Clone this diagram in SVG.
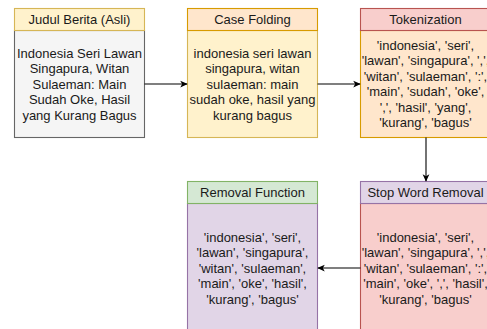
<svg xmlns="http://www.w3.org/2000/svg" width="487" height="329" viewBox="0 0 487 329">
<style>
text{font-family:"Liberation Sans",Arial,sans-serif;font-size:13px;fill:#1a1a1a;text-anchor:middle}
.conn{stroke:#000;stroke-width:1.1;fill:none;marker-end:url(#arr)}
.b{stroke-width:1.1}
</style>
<defs>
<marker id="arr" viewBox="0 0 10 10" refX="9" refY="5" markerWidth="7.5" markerHeight="7.5" markerUnits="userSpaceOnUse" orient="auto">
<path d="M0,0.5 L10,5 L0,9.5 L2.5,5 Z" fill="#000"/>
</marker>
</defs>
<rect width="487" height="329" fill="#fff"/>
<g id="judul">
<rect class="b" x="14.5" y="30.5" width="130" height="107" fill="#f5f5f5" stroke="#666666"/>
<rect class="b" x="14.5" y="8.5" width="130" height="22" fill="#fff2cc" stroke="#d6b656"/>
<text x="79.5" y="24">Judul Berita (Asli)</text>
<text x="79.5" y="57.5">Indonesia Seri Lawan</text>
<text x="79.5" y="73">Singapura, Witan</text>
<text x="79.5" y="88.5">Sulaeman: Main</text>
<text x="79.5" y="104">Sudah Oke, Hasil</text>
<text x="79.5" y="119.5">yang Kurang Bagus</text>
</g>
<g id="casefolding">
<rect class="b" x="187.5" y="30.5" width="130" height="107" fill="#fff2cc" stroke="#d6b656"/>
<rect class="b" x="187.5" y="8.5" width="130" height="22" fill="#ffe6cc" stroke="#d79b00"/>
<text x="252.5" y="24">Case Folding</text>
<text x="252.5" y="57.5">indonesia seri lawan</text>
<text x="252.5" y="73">singapura, witan</text>
<text x="252.5" y="88.5">sulaeman: main</text>
<text x="252.5" y="104">sudah oke, hasil yang</text>
<text x="252.5" y="119.5">kurang bagus</text>
</g>
<g id="tokenization">
<rect class="b" x="360.5" y="30.5" width="130" height="107" fill="#ffe6cc" stroke="#d79b00"/>
<rect class="b" x="360.5" y="8.5" width="130" height="22" fill="#f8cecc" stroke="#b85450"/>
<text x="425.5" y="24">Tokenization</text>
<text x="425.5" y="49.5">'indonesia', 'seri',</text>
<text x="425.5" y="65">'lawan', 'singapura', ',',</text>
<text x="425.5" y="80.5">'witan', 'sulaeman', ':',</text>
<text x="425.5" y="96">'main', 'sudah', 'oke',</text>
<text x="425.5" y="111.5">',', 'hasil', 'yang',</text>
<text x="425.5" y="127">'kurang', 'bagus'</text>
</g>
<g id="stopword">
<rect class="b" x="360.5" y="203.5" width="130" height="129" fill="#f8cecc" stroke="#b85450"/>
<rect class="b" x="360.5" y="181.5" width="130" height="22" fill="#e1d5e7" stroke="#9673a6"/>
<text x="425.5" y="197">Stop Word Removal</text>
<text x="425.5" y="241.5">'indonesia', 'seri',</text>
<text x="425.5" y="257">'lawan', 'singapura', ',',</text>
<text x="425.5" y="272.5">'witan', 'sulaeman', ':',</text>
<text x="425.5" y="288">'main', 'oke', ',', 'hasil',</text>
<text x="425.5" y="303.5">'kurang', 'bagus'</text>
</g>
<g id="removalfunction">
<rect class="b" x="187.5" y="203.5" width="130" height="129" fill="#e1d5e7" stroke="#9673a6"/>
<rect class="b" x="187.5" y="181.5" width="130" height="22" fill="#d5e8d4" stroke="#82b366"/>
<text x="252.5" y="197">Removal Function</text>
<text x="252.5" y="241.5">'indonesia', 'seri',</text>
<text x="252.5" y="257">'lawan', 'singapura',</text>
<text x="252.5" y="272.5">'witan', 'sulaeman',</text>
<text x="252.5" y="288">'main', 'oke', 'hasil',</text>
<text x="252.5" y="303.5">'kurang', 'bagus'</text>
</g>
<g id="connectors">
<line class="conn" x1="144.5" y1="84" x2="187" y2="84"/>
<line class="conn" x1="317.5" y1="84" x2="360" y2="84"/>
<line class="conn" x1="426" y1="137.5" x2="426" y2="181"/>
<line class="conn" x1="360.5" y1="268" x2="318" y2="268"/>
</g>
</svg>
